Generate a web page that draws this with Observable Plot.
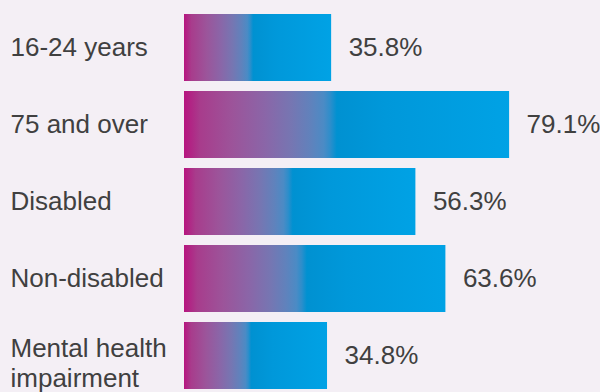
<!DOCTYPE html>
<html>
<head>
<meta charset="utf-8">
<script src="https://cdn.jsdelivr.net/npm/d3@7"></script>
<script src="https://cdn.jsdelivr.net/npm/@observablehq/plot@0.6"></script>
<style>
  html, body { margin: 0; padding: 0; background: #f4eff5; }
  svg { display: block; }
</style>
</head>
<body>
<div id="chart"></div>
<script>
const categories = ["16-24 years", "75 and over", "Disabled", "Non-disabled", "Mental health impairment"];
const values = [35.8, 79.1, 56.3, 63.6, 34.8];
const gradientStops = [
  [0, "#b7147f"], [0.05, "#a83c8c"], [0.15, "#9c549a"], [0.25, "#8a66a8"],
  [0.33, "#7676b2"], [0.39, "#6082bc"], [0.43, "#4b8bc5"], [0.45, "#2d8ecb"],
  [0.47, "#0091d1"], [0.62, "#0098da"], [1, "#00a2e5"]
];

const data = categories.map((c, i) => ({category: c, value: values[i]}));
const textColor = "#404040";
const font = 26;

const chart = Plot.plot({
  width: 600,
  height: 392,
  marginLeft: 184,
  marginRight: 0,
  marginTop: 0,
  marginBottom: 0,
  style: {background: "#f4eff5", fontFamily: "'Liberation Sans', Arial, sans-serif", fontSize: "26px", color: textColor},
  x: {domain: [0, 100], range: [184, 595], axis: null},
  y: {domain: categories, range: [2.5, 400.5], padding: 0.135, axis: null},
  marks: [
    Plot.barX(data, {x: "value", y: "category", fill: "url(#barGrad)"}),
    Plot.text(data.filter(d => d.category.length <= 14), {
      y: "category", text: "category", frameAnchor: "left", dx: -174,
      textAnchor: "start", fill: textColor, fontSize: font
    }),
    Plot.text(data.filter(d => d.category.length > 14), {
      y: "category", text: "category", frameAnchor: "left", dx: -174, dy: 6,
      textAnchor: "start", fill: textColor, fontSize: font, lineWidth: 8, lineHeight: 1.16
    }),
    Plot.text(data, {
      x: "value", y: "category", text: d => d.value.toFixed(1) + "%",
      dx: 17, textAnchor: "start", fill: textColor, fontSize: font
    })
  ]
});

const defs = d3.select(chart).insert("defs", ":first-child");
const grad = defs.append("linearGradient").attr("id", "barGrad")
  .attr("x1", "0").attr("x2", "1").attr("y1", "0").attr("y2", "0");
gradientStops.forEach(([o, c]) => grad.append("stop").attr("offset", o).attr("stop-color", c));

document.getElementById("chart").appendChild(chart);
</script>
</body>
</html>
